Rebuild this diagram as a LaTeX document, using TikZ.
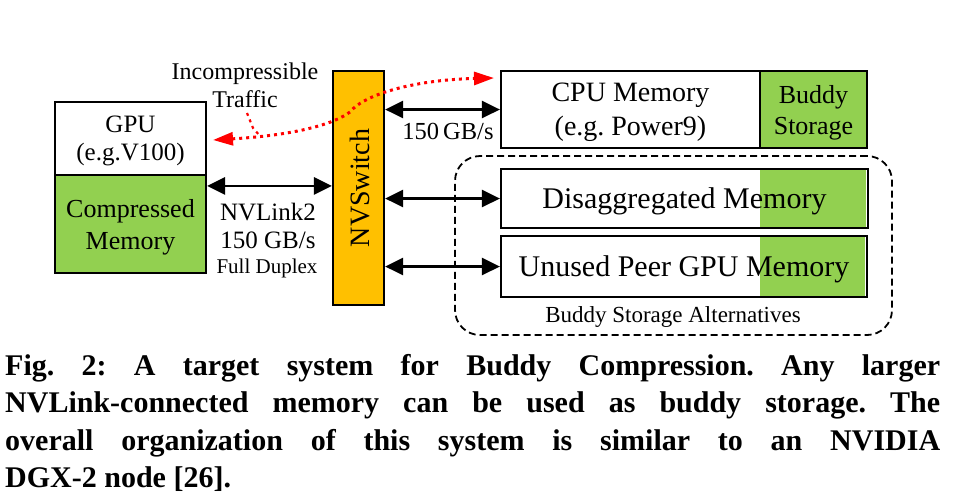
\documentclass[tikz,border=0pt]{standalone}
\usepackage{fontspec}
\setmainfont{Liberation Serif}
\usetikzlibrary{arrows.meta}
\usetikzlibrary{positioning}
\tikzset{box/.style = {draw, line width=2.2pt, inner sep=0, align=center, text depth=0pt}}
\tikzset{link/.style = {line width=2.8pt, {Triangle[length=18pt, width=17pt]}-{Triangle[length=18pt, width=17pt]}}}
\tikzset{traffic/.style = {mred, line width=3pt, dash pattern=on 3pt off 4pt}}
\tikzset{lbl/.style = {inner sep=0, anchor=base}}
\definecolor{mgreen}{HTML}{92D050}
\definecolor{morange}{HTML}{FFC000}
\definecolor{mred}{HTML}{FF0000}
\frenchspacing

\begin{document}
\begin{tikzpicture}[x=1pt, y=-1pt]
    \useasboundingbox (0, 0) rectangle (958, 499);

    % GPU side
    \node [box, minimum width=151, minimum height=73, font=\fontsize{25}{28}\selectfont] (gpu) at (130.5, 138.5) {GPU\\(e.g.V100)};
    \node [box, fill=mgreen, minimum width=151, minimum height=98, font=\fontsize{26}{32}\selectfont] (cmem) at (130.5, 224) {Compressed\\Memory};
    \node [box, fill=morange, minimum width=51, minimum height=234] (switch) at (358.5, 188) {};
    \node [inner sep=0, text depth=0pt, rotate=90, font=\fontsize{28}{30}\selectfont] (swname) at (360, 188) {NVSwitch};

    % memories
    \node [box, minimum width=259, minimum height=77, font=\fontsize{28}{34}\selectfont] (cpu) at (630.5, 109.5) {CPU Memory\\(e.g. Power9)};
    \node [box, fill=mgreen, minimum width=107, minimum height=77, font=\fontsize{26}{31}\selectfont] (buddy) at (813.5, 109.5) {Buddy\\Storage};
    \fill [mgreen] (760, 169) rectangle (866, 228);
    \node [box, minimum width=367, minimum height=59, font=\fontsize{30}{32}\selectfont] (disagg) at (684.5, 198.5) {Disaggregated Memory};
    \fill [mgreen] (760, 236) rectangle (865, 297);
    \node [box, minimum width=366, minimum height=61, font=\fontsize{30}{32}\selectfont] (peer) at (684, 266.5) {Unused Peer GPU Memory};
    \node [draw, line width=1.8pt, dash pattern=on 7pt off 4pt, rounded corners=25pt, minimum width=437, minimum height=179] (alt) at (673.5, 245.5) {};
    \node [lbl, font=\fontsize{23}{25}\selectfont] (altname) at (673, 322) {Buddy Storage Alternatives};

    % links
    \draw [link] ([yshift=-12pt]cmem.north east) -- ([yshift=-12pt]cmem.north east -| switch.west);
    \foreach \n in {cpu, disagg, peer} {
      \draw [link] (switch.east |- \n.west) -- (\n.west);
    }
    \node [lbl, font=\fontsize{24.5}{26}\selectfont] (bwtop) at (448, 139) {150\,GB/s};
    \node [lbl, font=\fontsize{25}{27}\selectfont] (nvl) at (268, 220) {NVLink2};
    \node [lbl, font=\fontsize{25}{27}\selectfont] (bw) at (268, 248) {150 GB/s};
    \node [lbl, font=\fontsize{21}{23}\selectfont] (duplex) at (267, 273) {Full Duplex};

    % incompressible traffic
    \node [lbl, font=\fontsize{24}{26}\selectfont] (incomp) at (245, 79) {Incompressible};
    \node [lbl, font=\fontsize{24}{26}\selectfont] (traf) at (245, 107) {Traffic};
    \coordinate (trafL) at (213, 140);
    \coordinate (trafM) at (260, 136);
    \coordinate (trafR) at (494, 78);
    \draw [traffic, {Triangle[length=20pt, width=13pt]}-{Triangle[length=20pt, width=13pt]}] (trafL) .. controls (280, 136) and (328, 128) .. (350, 112) .. controls (362, 96) and (410, 80) .. (trafR);
    \draw [traffic, line width=2.2pt] ([xshift=2pt, yshift=-6pt]traf.base) -- (253, 128) -- (trafM);

    % caption
    \node [anchor=north west, inner sep=0, align=left, font=\bfseries\fontsize{30}{37.5}\selectfont] (caption) at (5, 354)
      {\makebox[935pt][s]{Fig. 2: A target system for Buddy Compression. Any larger}\\
       \makebox[935pt][s]{NVLink-connected memory can be used as buddy storage. The}\\
       \makebox[935pt][s]{overall organization of this system is similar to an NVIDIA}\\
       DGX-2 node [26].};
  \end{tikzpicture}
\end{document}
